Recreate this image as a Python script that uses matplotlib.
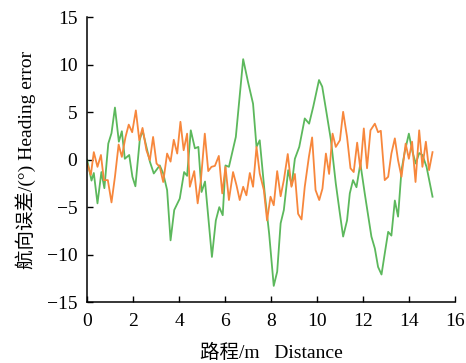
import matplotlib
matplotlib.use("Agg")
import matplotlib.pyplot as plt

green_x = [0.0, 0.19, 0.29, 0.45, 0.62, 0.75, 0.92, 1.06, 1.21, 1.38, 1.51, 1.64, 1.83, 1.97, 2.1,
           2.29, 2.41, 2.58, 2.73, 2.9, 3.16, 3.31, 3.48, 3.63, 3.79, 4.03, 4.22, 4.35, 4.51, 4.69,
           4.84, 4.98, 5.13, 5.43, 5.6, 5.75, 5.9, 6.02, 6.17, 6.47, 6.79, 7.0, 7.22, 7.37, 7.51,
           7.73, 7.92, 8.12, 8.27, 8.42, 8.56, 8.75, 8.9, 9.04, 9.23, 9.47, 9.66, 9.84, 10.09,
           10.23, 10.42, 10.61, 10.82, 11.0, 11.14, 11.31, 11.43, 11.57, 11.72, 11.89, 12.08,
           12.37, 12.52, 12.66, 12.81, 12.95, 13.1, 13.24, 13.39, 13.53, 13.68, 13.82, 14.0,
           14.16, 14.3, 14.45, 14.59, 14.77, 15.03]
green_y = [0.0, -2.2, -1.4, -4.6, -1.3, -3.0, 1.7, 2.8, 5.5, 1.9, 3.0, 0.1, 0.5, -1.8, -2.8,
           2.1, 3.1, 1.35, -0.2, -1.45, -0.6, -1.45, -3.2, -8.5, -5.3, -4.1, -1.3, -1.7, 3.1, 1.2,
           1.35, -3.4, -2.3, -10.25, -6.4, -5.0, -5.85, -0.6, -0.75, 2.4, 10.6, 8.2, 5.9, 1.35, 2.05,
           -3.6, -7.8, -13.3, -11.8, -6.7, -5.3, -1.1, -2.7, 0.1, 1.35, 4.35, 3.8, 5.6, 8.4,
           7.7, 4.9, 2.05, -2.5, -5.7, -8.1, -6.4, -3.55, -2.15, -2.9, -0.4, -3.55,
           -8.1, -9.35, -11.3, -12.1, -9.9, -7.6, -8.0, -4.3, -6.0, -1.1, 0.8, 2.75,
           0.8, -0.4, 0.7, 0.5, -0.75, -3.9]

orange_x = [0.0, 0.16, 0.29, 0.45, 0.6, 0.73, 0.9, 1.06, 1.21, 1.37, 1.51, 1.67, 1.81, 1.96, 2.12,
            2.27, 2.41, 2.58, 2.73, 2.87, 3.02, 3.16, 3.31, 3.48, 3.63, 3.77, 3.92, 4.06, 4.2,
            4.35, 4.47, 4.66, 4.81, 4.95, 5.12, 5.27, 5.41, 5.56, 5.73, 5.88, 6.02, 6.17, 6.35,
            6.5, 6.64, 6.79, 6.93, 7.08, 7.22, 7.37, 7.51, 7.69, 7.83, 7.98, 8.12, 8.27, 8.42,
            8.56, 8.73, 8.89, 9.04, 9.18, 9.33, 9.47, 9.65, 9.79, 9.94, 10.1, 10.24, 10.39,
            10.53, 10.68, 10.82, 11.0, 11.14, 11.31, 11.46, 11.6, 11.75, 11.89, 12.04, 12.18,
            12.33, 12.52, 12.66, 12.78, 12.95, 13.1, 13.24, 13.39, 13.53, 13.68, 13.86, 14.0,
            14.14, 14.29, 14.45, 14.59, 14.74, 14.88, 15.03]
orange_y = [-0.4, -1.6, 0.8, -0.75, 0.5, -2.15, -2.15, -4.5, -1.8, 1.6, 0.3, 2.4, 3.7, 2.9, 5.2,
            2.05, 3.35, 1.0, -0.05, 2.4, -0.4, -0.75, -2.35, 0.65, -0.2, 2.1, 0.65, 4.0, 1.0,
            2.75, -2.85, -1.2, -4.6, -2.15, 2.75, -1.2, -0.75, -0.65, 0.4, -3.55, -0.75, -4.25, -1.3,
            -2.7, -4.25, -2.85, -3.75, -1.4, -2.85, 1.35, -1.45, -3.2, -6.4, -3.9, -4.8, -1.2, -3.85,
            -2.15, 0.6, -2.85, -1.5, -5.7, -6.3, -2.85, 0.3, 2.35, -3.2, -4.25, -3.05, 0.65,
            -1.5, 2.75, 1.35, 2.05, 5.05, 2.4, -0.9, -1.3, 1.8, -1.0, 3.3, -0.9,
            3.1, 3.8, 2.9, 3.05, -2.15, -1.8, 0.65, 2.25, -0.05, -1.8, 1.7, 0.1,
            1.9, -2.35, 3.1, -0.75, 1.9, -1.1, 0.8]

x_ticks = [0, 2, 4, 6, 8, 10, 12, 14, 16]
y_ticks = [-15, -10, -5, 0, 5, 10, 15]

plt.rcParams['font.family'] = ['Liberation Serif', 'Noto Sans CJK SC']
plt.rcParams['mathtext.fontset'] = 'stix'

fig = plt.figure(figsize=(4.66, 3.63), dpi=100)
ax = fig.add_axes([0.187, 0.168, 0.789, 0.784])

ax.plot(green_x, green_y, color='#5cb85c', lw=1.3)
ax.plot(orange_x, orange_y, color='#f7873c', lw=1.3)

ax.set_xlim(0, 16)
ax.set_ylim(-15, 15)
ax.set_xticks(x_ticks)
ax.set_yticks(y_ticks)
ax.set_yticklabels([('\u2212' + str(abs(v))) if v < 0 else str(v) for v in y_ticks])
ax.tick_params(direction='in', length=4, width=1, labelsize=14)
ax.tick_params(axis='x', pad=8)
ax.tick_params(axis='y', pad=7)
for s in ['top', 'right']:
    ax.spines[s].set_visible(False)
for s in ['left', 'bottom']:
    ax.spines[s].set_linewidth(1.1)

ax.set_xlabel('路程/m   Distance', fontsize=14, labelpad=10)
ax.set_ylabel('航向误差/(°) Heading error', fontsize=14, labelpad=8)

fig.savefig('out.png', dpi=100)
